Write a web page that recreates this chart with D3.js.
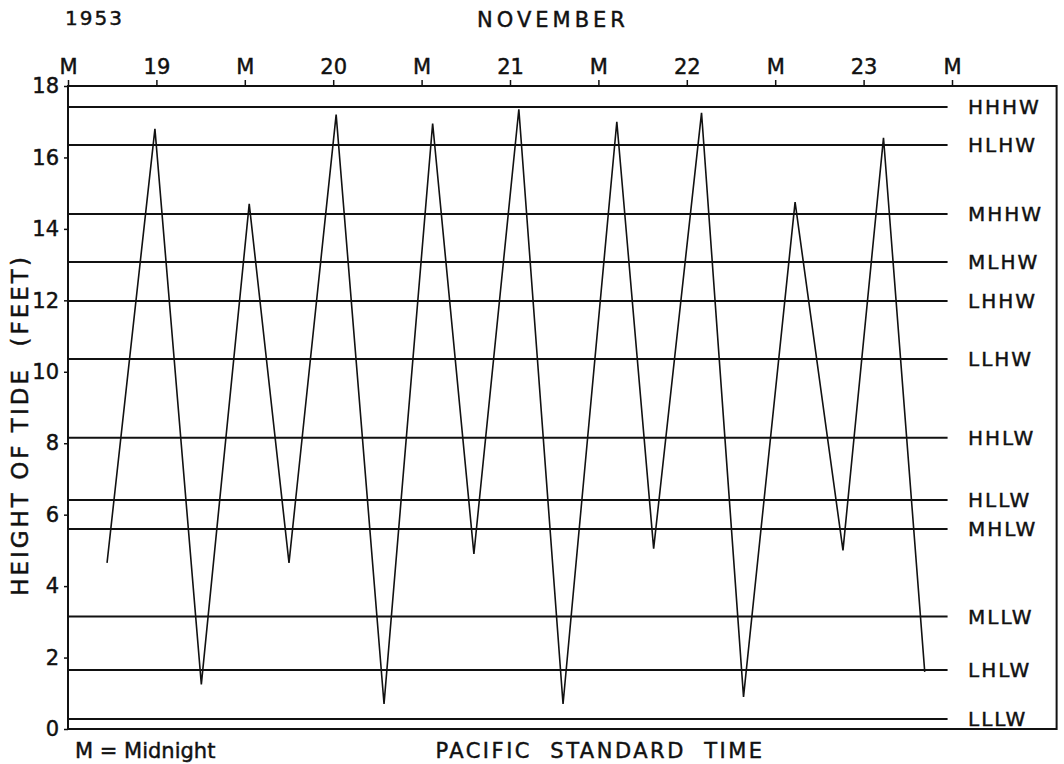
<!DOCTYPE html>
<html>
<head>
<meta charset="utf-8">
<script src="https://cdn.jsdelivr.net/npm/d3@7"></script>
<style>
  html, body { margin: 0; padding: 0; background: #fff; }
  svg { display: block; }
  text { font-family: "DejaVu Sans", sans-serif; fill: #111; stroke: #111; stroke-width: 0.45px; }
</style>
</head>
<body>
<svg id="chart" width="1064" height="764"></svg>
<script>
// Tide record, Nov 19-23 1953, hours counted from midnight starting Nov 19
const timeTicks = [0, 12, 24, 36, 48, 60, 72, 84, 96, 108, 120];
const timeTickLabels = ["M", "19", "M", "20", "M", "21", "M", "22", "M", "23", "M"];

const heightTicks = [0, 2, 4, 6, 8, 10, 12, 14, 16, 18];

// Successive high and low waters (hours, feet)
const tideHours = [5.3, 11.8, 18.1, 24.6, 30.0, 36.4, 42.9, 49.5, 55.1, 61.2,
                   67.2, 74.5, 79.5, 86.0, 91.7, 98.7, 105.2, 110.7, 116.3];
const tideFeet  = [4.65, 16.8, 1.25, 14.7, 4.65, 17.2, 0.7, 16.95, 4.9, 17.35,
                   0.7, 17.0, 5.05, 17.25, 0.9, 14.75, 5.0, 16.55, 1.6];

// Reference tide levels
const levelNames = ["HHHW", "HLHW", "MHHW", "MLHW", "LHHW", "LLHW",
                    "HHLW", "HLLW", "MHLW", "MLLW", "LHLW", "LLLW"];
const levelFeet  = [17.41, 16.35, 14.42, 13.07, 11.98, 10.36,
                    8.15, 6.41, 5.6, 3.15, 1.65, 0.28];

const svg = d3.select("#chart");
const ink = "#111";

const x = d3.scaleLinear().domain([0, 120]).range([68, 952]);
const y = d3.scaleLinear().domain([0, 18]).range([729, 86]);
const xEnd = 134.2;      // right edge of the frame, in hours
const levelEnd = 119.4;  // where the level lines stop

// Frame
svg.append("rect")
  .attr("x", x(0)).attr("y", y(18))
  .attr("width", x(xEnd) - x(0)).attr("height", y(0) - y(18))
  .attr("fill", "none").attr("stroke", ink).attr("stroke-width", 2);

// Top time axis
const xAxis = d3.axisTop(x)
  .tickValues(timeTicks)
  .tickFormat((d, i) => timeTickLabels[i])
  .tickSize(6).tickPadding(6);
const gx = svg.append("g").attr("transform", `translate(0,${y(18)})`).call(xAxis);
gx.select(".domain").remove();
gx.selectAll(".tick line").attr("stroke", ink).attr("stroke-width", 1.5);
gx.selectAll(".tick text").style("font-size", "21px").attr("fill", ink);

// Left height axis
const yAxis = d3.axisLeft(y)
  .tickValues(heightTicks)
  .tickSize(4).tickPadding(5)
  .tickFormat(d3.format("d"));
const gy = svg.append("g").attr("transform", `translate(${x(0)},0)`).call(yAxis);
gy.select(".domain").remove();
gy.selectAll(".tick line").attr("stroke", ink).attr("stroke-width", 1.5);
gy.selectAll(".tick text").style("font-size", "21px").attr("fill", ink);

// Reference level lines with names
const levels = svg.append("g");
levels.selectAll("line")
  .data(levelFeet)
  .join("line")
  .attr("x1", x(0)).attr("x2", x(levelEnd))
  .attr("y1", d => y(d)).attr("y2", d => y(d))
  .attr("stroke", ink).attr("stroke-width", 2);
levels.selectAll("text")
  .data(levelFeet)
  .join("text")
  .attr("x", 968)
  .attr("y", d => y(d))
  .attr("dy", "0.36em")
  .style("font-size", "20px")
  .style("letter-spacing", "2px")
  .text((d, i) => levelNames[i]);

// Tide curve
const tide = tideHours.map((h, i) => [h, tideFeet[i]]);
svg.append("path")
  .datum(tide)
  .attr("d", d3.line().x(d => x(d[0])).y(d => y(d[1])))
  .attr("fill", "none").attr("stroke", ink)
  .attr("stroke-width", 1.6).attr("stroke-linejoin", "miter");

// Titles
svg.append("text").attr("x", 65).attr("y", 25)
  .style("font-size", "20px").style("letter-spacing", "2px").text("1953");
svg.append("text").attr("x", 553).attr("y", 27).attr("text-anchor", "middle")
  .style("font-size", "21px").style("letter-spacing", "4px").text("NOVEMBER");
svg.append("text")
  .attr("transform", "translate(28,425) rotate(-90)")
  .attr("text-anchor", "middle")
  .style("font-size", "23px").style("letter-spacing", "3px")
  .style("white-space", "pre")
  .text("HEIGHT OF TIDE  (FEET)");
svg.append("text").attr("x", 75).attr("y", 758)
  .style("font-size", "21px").text("M = Midnight");
svg.append("text").attr("x", 600).attr("y", 758).attr("text-anchor", "middle")
  .style("font-size", "21px").style("letter-spacing", "2.5px")
  .style("white-space", "pre").text("PACIFIC  STANDARD  TIME");
</script>
</body>
</html>
